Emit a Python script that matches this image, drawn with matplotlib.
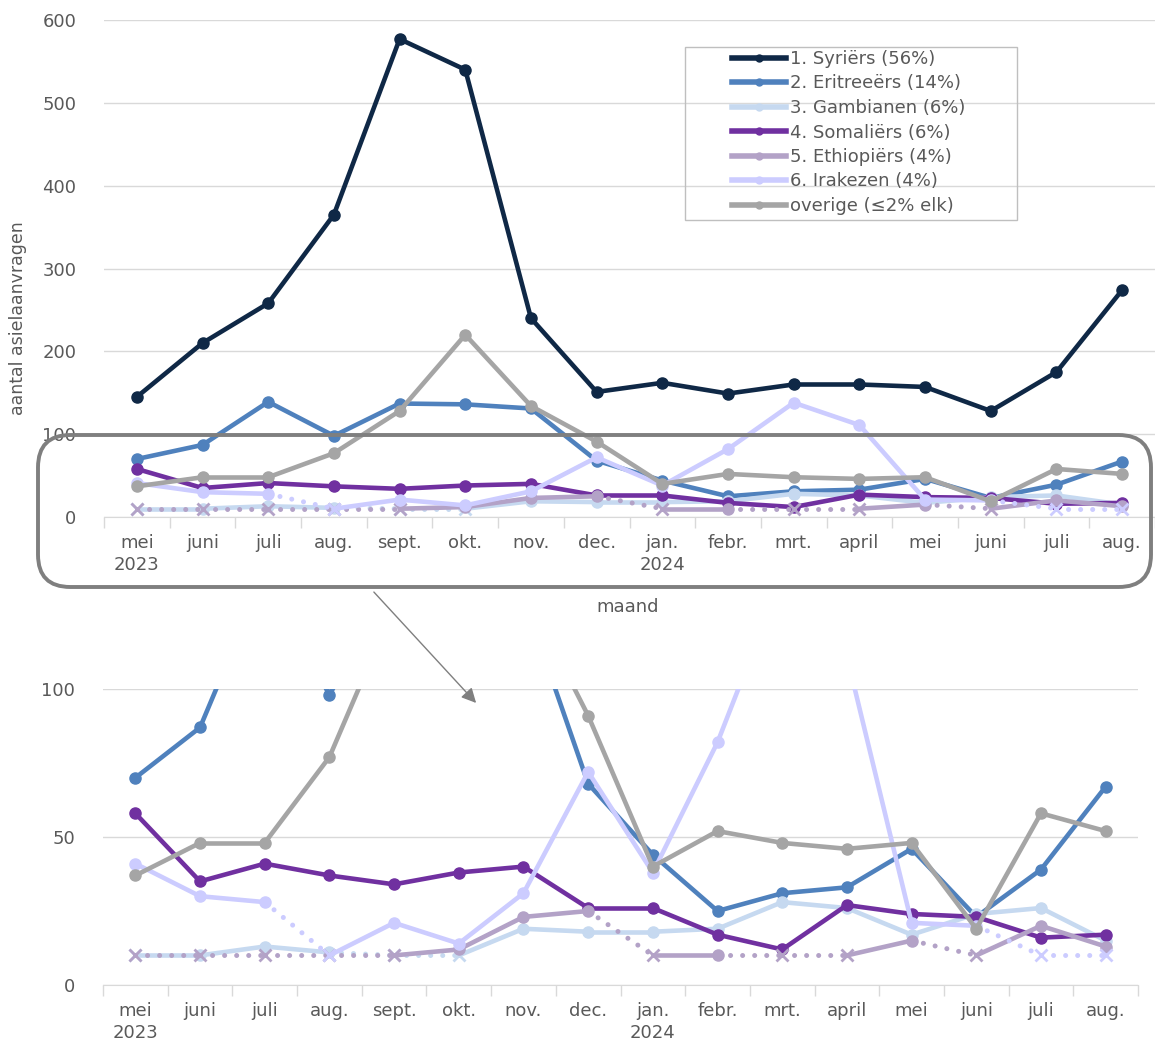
import matplotlib
matplotlib.use("Agg")
import matplotlib.pyplot as plt
import numpy as np
from matplotlib.patches import FancyBboxPatch, FancyArrowPatch, Rectangle
from matplotlib.lines import Line2D

maanden = ["mei\n2023", "juni", "juli", "aug.", "sept.", "okt.", "nov.", "dec.",
           "jan.\n2024", "febr.", "mrt.", "april", "mei", "juni", "juli", "aug."]

syriers = [145, 210, 258, 365, 577, 540, 240, 151, 162, 149, 160, 160, 157, 128, 175, 274]
eritreeers = [70, 87, 139, 98, 137, 136, 131, 68, 44, 25, 31, 33, 46, 23, 39, 67]
gambianen = [10, 10, 13, 11, 10, 10, 19, 18, 18, 19, 28, 26, 17, 24, 26, 15]
somaliers = [58, 35, 41, 37, 34, 38, 40, 26, 26, 17, 12, 27, 24, 23, 16, 17]
ethiopiers = [10, 10, 10, 10, 10, 12, 23, 25, 10, 10, 10, 10, 15, 10, 20, 13]
irakezen = [41, 30, 28, 10, 21, 14, 31, 72, 38, 82, 138, 111, 21, 20, 10, 10]
overige = [37, 48, 48, 77, 128, 220, 134, 91, 40, 52, 48, 46, 48, 19, 58, 52]

# maanden met hooguit 10 aanvragen (als 10 getekend, stippellijn + kruisje)
verborgen_gambianen = [0, 4, 5]
verborgen_ethiopiers = [0, 1, 2, 3, 4, 8, 10, 11, 13]
verborgen_irakezen = [3, 14, 15]

labels = ["1. Syriërs (56%)", "2. Eritreeërs (14%)", "3. Gambianen (6%)",
          "4. Somaliërs (6%)", "5. Ethiopiërs (4%)", "6. Irakezen (4%)",
          "overige (≤2% elk)"]
kleuren = ["#0f2846", "#4f81bd", "#c6d9f0", "#7030a0", "#b3a2c7", "#ccccff", "#a5a5a5"]

reeksen = [syriers, eritreeers, gambianen, somaliers, ethiopiers, irakezen, overige]
verborgen = [[], [], verborgen_gambianen, [], verborgen_ethiopiers, verborgen_irakezen, []]

W, H = 1155, 1045
fig = plt.figure(figsize=(W / 100, H / 100), dpi=100)

tekst = "#595959"
grid = "#d9d9d9"


def fx(px):
    return px / W


def fy(py):
    return 1 - py / H


def teken(ax, waarden, verb, kleur):
    x = np.arange(len(waarden))
    y = np.array(waarden, float)
    v = np.zeros(len(y), bool)
    v[verb] = True
    for i in range(1, len(y)):
        if v[i]:
            ax.plot(x[i - 1:i + 1], y[i - 1:i + 1], color=kleur, lw=3.6,
                    linestyle=(0, (0.01, 2.4)), dash_capstyle="round")
        else:
            ax.plot(x[i - 1:i + 1], y[i - 1:i + 1], color=kleur, lw=3.3,
                    solid_capstyle="round")
    ax.plot(x[~v], y[~v], "o", color=kleur, ms=8)
    ax.plot(x[v], y[v], "x", color=kleur, ms=8, mew=2)


def opmaak(ax, yticks, ylim, xmax):
    ax.set_xlim(-0.5, xmax)
    ax.set_ylim(*ylim)
    ax.set_yticks(yticks)
    ax.set_xticks(np.arange(len(maanden)))
    ax.set_xticklabels(maanden, linespacing=1.3)
    ax.set_xticks(np.arange(len(maanden) + 1) - 0.5, minor=True)
    ax.tick_params(axis="x", which="major", length=0, pad=12, labelsize=13, colors=tekst)
    ax.tick_params(axis="x", which="minor", length=8, width=1, color=grid)
    ax.tick_params(axis="y", length=0, pad=20, labelsize=13, colors=tekst)
    for s in ["top", "right", "left"]:
        ax.spines[s].set_visible(False)
    ax.spines["bottom"].set_color(grid)
    ax.grid(axis="y", color=grid, lw=1)
    ax.set_axisbelow(True)


# bovenste grafiek
ax1 = fig.add_axes([fx(104), fy(517), fx(1051), 497 / H])
for waarden, verb, kleur in zip(reeksen, verborgen, kleuren):
    teken(ax1, waarden, verb, kleur)
opmaak(ax1, [0, 100, 200, 300, 400, 500, 600], (0, 600), 15.45)

# onderste grafiek (ingezoomd)
ax2 = fig.add_axes([fx(103), fy(985), fx(1035), 296 / H])
for waarden, verb, kleur in zip(reeksen, verborgen, kleuren):
    teken(ax2, waarden, verb, kleur)
opmaak(ax2, [0, 50, 100], (0, 100), 15.5)

# legenda
handles = [Line2D([], [], color=k, lw=4, marker="o", ms=5) for k in kleuren]
fig.legend(handles, labels, loc="upper left", bbox_to_anchor=(fx(732), fy(50)),
           frameon=False, fontsize=13, handlelength=3.0, handletextpad=0.2,
           labelspacing=0.36, borderpad=0, borderaxespad=0, labelcolor=tekst)
fig.add_artist(Rectangle((fx(685), fy(220)), fx(332), 173 / H, transform=fig.transFigure,
                         fill=False, edgecolor="#bfbfbf", lw=1))

fig.text(fx(18), fy(318), "aantal asielaanvragen", rotation=90, ha="center", va="center",
         fontsize=12.5, color=tekst)
fig.text(fx(628), fy(607), "maand", ha="center", va="center", fontsize=13, color=tekst)

# kader rond het stuk dat hieronder is uitvergroot
kader = FancyBboxPatch((fx(38), fy(587)), fx(1113), 152 / H,
                       boxstyle="round,pad=0,rounding_size=0.028",
                       transform=fig.transFigure, fill=False, edgecolor="#7f7f7f",
                       lw=2.8, zorder=10, mutation_aspect=W / H)
fig.add_artist(kader)
pijl = FancyArrowPatch((fx(372), fy(590)), (fx(478), fy(705)), transform=fig.transFigure,
                       arrowstyle="-|>", mutation_scale=22, color="#7f7f7f", lw=1)
fig.add_artist(pijl)

fig.savefig("out.png", dpi=100)
